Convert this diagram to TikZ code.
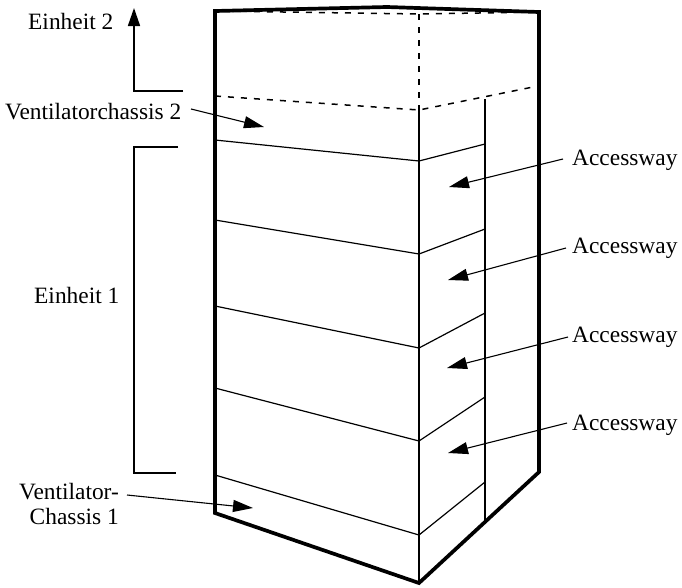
\documentclass[tikz,border=0pt]{standalone}
\usepackage{fontspec}
\setmainfont{Liberation Serif}
\usetikzlibrary{arrows.meta}
\tikzset{
  outline/.style={line width=3.7pt,line join=miter},
  thinline/.style={line width=1.2pt},
  edgeline/.style={line width=1.8pt},
  brace/.style={line width=1.6pt},
  dashline/.style={line width=1.5pt,dash pattern=on 6pt off 7pt},
  pointer/.style={line width=1.1pt,-{Triangle[length=20pt,width=12pt]}},
  lbl/.style={inner sep=0pt,anchor=base west,font=\fontsize{23.4}{23.4}\selectfont},
  lblr/.style={inner sep=0pt,anchor=base east,align=right,font=\fontsize{23.4}{25}\selectfont}
}
\begin{document}
\begin{tikzpicture}[x=1pt,y=-1pt]
\useasboundingbox (0,0) rectangle (682,587);
% corners
\coordinate (tl) at (215,11);
\coordinate (tm) at (387,7);
\coordinate (tr) at (539,12);
\coordinate (br) at (539,472);
\coordinate (bm) at (419,583);
\coordinate (bl) at (215,513);
\coordinate (bk) at (419,14);
\coordinate (ml) at (215,96);
\coordinate (mm) at (419,110);
\coordinate (mr) at (538,86);
\coordinate (ct) at (485,99);
\coordinate (cb) at (485,520);
% dashed
\draw[dashline] (tl) -- (bk) -- (tr);
\draw[dashline] (ml) -- (mm) -- (mr);
\draw[dashline] (bk) -- (mm);
% solid edges
\draw[edgeline] (mm) -- (bm);
\draw[edgeline] (ct) -- (cb);
% shelves
\foreach \a/\b/\c in {140/161/144,220/254/229,306/348/313,388/441/397,475/535/482}
  \draw[thinline] (215,\a) -- (419,\b) -- (485,\c);
% outline
\draw[outline] (tl) -- (tm) -- (tr) -- (br) -- (bm) -- (bl) -- cycle;
% labels
\node[lbl] (e2) at (28,29) {Einheit 2};
\node[lbl] (v2) at (5,119) {Ventilatorchassis 2};
\node[lbl] (e1) at (34,303) {Einheit 1};
\node[lblr,anchor=north east] (v1) at (119,483) {Ventilator-\\Chassis 1};
\node[lbl] (a1) at (572,165) {Accessway};
\node[lbl] (a2) at (572,253) {Accessway};
\node[lbl] (a3) at (572,342) {Accessway};
\node[lbl] (a4) at (572,430) {Accessway};
% brackets
\coordinate (u0) at (183,91);
\coordinate (u1) at (134,91);
\coordinate (u2) at (134,8);
\draw[brace,-{Triangle[length=18pt,width=12pt]}] (u0) -- (u1) -- (u2);
\coordinate (b0) at (178,147);
\coordinate (b1) at (134,147);
\coordinate (b2) at (134,473);
\coordinate (b3) at (176,473);
\draw[brace] (b0) -- (b1) -- (b2) -- (b3);
% pointers
\coordinate (pv2s) at (191,109); \coordinate (pv2e) at (264,127);
\coordinate (pv1s) at (127,495); \coordinate (pv1e) at (253,508);
\coordinate (p1s) at (563,159); \coordinate (p1e) at (449,187);
\coordinate (p2s) at (566,248); \coordinate (p2e) at (448,280);
\coordinate (p3s) at (568,337); \coordinate (p3e) at (447,368);
\coordinate (p4s) at (567,423); \coordinate (p4e) at (448,453);
\draw[pointer] (pv2s) -- (pv2e);
\draw[pointer] (pv1s) -- (pv1e);
\draw[pointer] (p1s) -- (p1e);
\draw[pointer] (p2s) -- (p2e);
\draw[pointer] (p3s) -- (p3e);
\draw[pointer] (p4s) -- (p4e);
\end{tikzpicture}
\end{document}
